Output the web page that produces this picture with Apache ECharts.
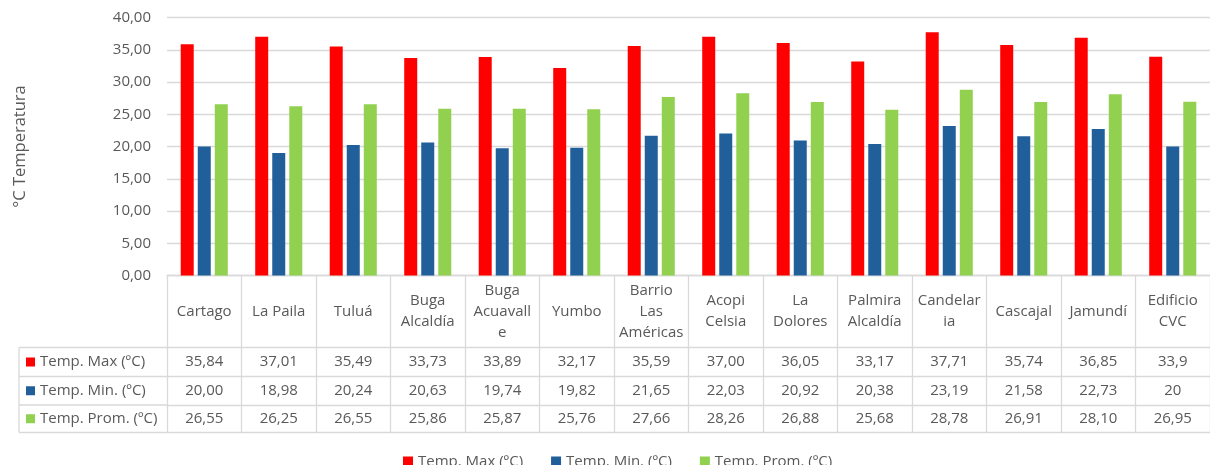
<!DOCTYPE html>
<html>
<head>
<meta charset="utf-8">
<script src="https://cdn.jsdelivr.net/npm/echarts@6/dist/echarts.min.js"></script>
<style>
  html, body { margin: 0; padding: 0; background: #fff; }
  #temp_chart { width: 1210px; height: 465px; }
</style>
</head>
<body>
<div id="temp_chart"></div>
<script>
  // estaciones (los saltos de linea imitan el ajuste de texto de la tabla)
  const estaciones = ['Cartago', 'La Paila', 'Tuluá', 'Buga\nAlcaldía', 'Buga\nAcuavall\ne', 'Yumbo',
    'Barrio\nLas\nAméricas', 'Acopi\nCelsia', 'La\nDolores', 'Palmira\nAlcaldía', 'Candelar\nia',
    'Cascajal', 'Jamundí', 'Edificio\nCVC'];
  const tempMax = [35.84, 37.01, 35.49, 33.73, 33.89, 32.17, 35.59, 37.00, 36.05, 33.17, 37.71, 35.74, 36.85, 33.9];
  const tempMin = [20.00, 18.98, 20.24, 20.63, 19.74, 19.82, 21.65, 22.03, 20.92, 20.38, 23.19, 21.58, 22.73, 20];
  const tempProm = [26.55, 26.25, 26.55, 25.86, 25.87, 25.76, 27.66, 28.26, 26.88, 25.68, 28.78, 26.91, 28.10, 26.95];
  // la ultima columna viene sin formato de 2 decimales
  const sinFormato = [false, false, false, false, false, false, false, false, false, false, false, false, false, true];
  const nombres = ['Temp. Max (ºC)', 'Temp. Min. (ºC)', 'Temp. Prom. (ºC)'];
  const colores = ['#ff0000', '#215f9a', '#92d050'];
  const yTicks = [0, 40, 5]; // min, max, intervalo

  const FONT = 'Open Sans';
  const FS = 15;
  const TXT = '#595959';
  const LINEA = '#d9d9d9';

  // layout
  const gLeft = 167, gTop = 17.5, gWidth = 1049, gHeight = 258;
  const ejeY = gTop + gHeight;
  const altoCab = 72;
  const altoFila = [29, 28.5, 27.5];

  function fmt (v, i) {
    if (sinFormato[i]) return String(v).replace('.', ',');
    return v.toFixed(2).replace('.', ',');
  }

  const filas = [tempMax, tempMin, tempProm];

  let xAxes = [{
    type: 'category',
    data: estaciones,
    position: 'bottom',
    gridIndex: 0,
    axisLine: { lineStyle: { color: LINEA, width: 1.3 } },
    axisTick: { show: true, interval: 0, length: altoCab, lineStyle: { color: LINEA, width: 1.3 } },
    axisLabel: {
      interval: 0, margin: altoCab / 2, verticalAlign: 'middle', align: 'center',
      color: TXT, fontFamily: FONT, fontSize: FS, lineHeight: 21
    }
  }];
  let off = altoCab;
  filas.forEach((fila, r) => {
    xAxes.push({
      type: 'category',
      data: estaciones,
      position: 'bottom',
      offset: off,
      axisLine: { show: true, lineStyle: { color: LINEA, width: 1.3 } },
      axisTick: { show: true, interval: 0, length: altoFila[r], lineStyle: { color: LINEA, width: 1.3 } },
      axisLabel: {
        interval: 0, margin: altoFila[r] / 2, verticalAlign: 'middle', align: 'center',
        color: TXT, fontFamily: FONT, fontSize: FS,
        formatter: (v, i) => fmt(fila[i], i)
      }
    });
    off += altoFila[r];
  });
  // linea inferior de la tabla
  xAxes.push({
    type: 'category',
    data: estaciones,
    position: 'bottom',
    offset: off,
    axisLine: { show: true, lineStyle: { color: LINEA, width: 1.3 } },
    axisTick: { show: false },
    axisLabel: { show: false }
  });

  // columna izquierda de la tabla (leyenda de filas)
  const xIzq = 19;
  let graficos = [];
  let y = ejeY + altoCab;
  graficos.push({ type: 'line', shape: { x1: xIzq, y1: y, x2: gLeft, y2: y }, style: { stroke: LINEA, lineWidth: 1.3 } });
  let yIni = y;
  nombres.forEach((n, r) => {
    const yc = y + altoFila[r] / 2;
    graficos.push({ type: 'rect', shape: { x: 26, y: yc - 4.5, width: 9, height: 9 }, style: { fill: colores[r] } });
    graficos.push({
      type: 'text', x: 40, y: yc,
      style: { text: n, fill: TXT, font: FS + 'px "' + FONT + '"', verticalAlign: 'middle', align: 'left' }
    });
    y += altoFila[r];
    graficos.push({ type: 'line', shape: { x1: xIzq, y1: y, x2: gLeft, y2: y }, style: { stroke: LINEA, lineWidth: 1.3 } });
  });
  graficos.push({ type: 'line', shape: { x1: xIzq, y1: yIni, x2: xIzq, y2: y }, style: { stroke: LINEA, lineWidth: 1.3 } });

  const option = {
    animation: false,
    textStyle: { fontFamily: FONT },
    grid: { left: gLeft, top: gTop, width: gWidth, height: gHeight, containLabel: false },
    legend: {
      data: nombres,
      left: 398,
      top: 449,
      icon: 'rect',
      itemWidth: 10,
      itemHeight: 10,
      itemGap: 28,
      textStyle: { color: TXT, fontFamily: FONT, fontSize: FS }
    },
    xAxis: xAxes,
    yAxis: {
      type: 'value',
      min: yTicks[0],
      max: yTicks[1],
      interval: yTicks[2],
      name: '°C Temperatura',
      nameLocation: 'middle',
      nameRotate: 90,
      nameGap: 138,
      nameTextStyle: { color: TXT, fontFamily: FONT, fontSize: 16.5 },
      axisLine: { show: false },
      axisTick: { show: false },
      axisLabel: {
        margin: 16,
        color: TXT, fontFamily: FONT, fontSize: FS,
        formatter: v => v.toFixed(2).replace('.', ',')
      },
      splitLine: { lineStyle: { color: LINEA, width: 1.3 } }
    },
    series: filas.map((fila, r) => ({
      name: nombres[r],
      type: 'bar',
      xAxisIndex: 0,
      barWidth: 13,
      barGap: '31%',
      itemStyle: { color: colores[r] },
      data: fila
    })),
    graphic: graficos
  };

  const chart = echarts.init(document.getElementById('temp_chart'));
  chart.setOption(option);
</script>
</body>
</html>
